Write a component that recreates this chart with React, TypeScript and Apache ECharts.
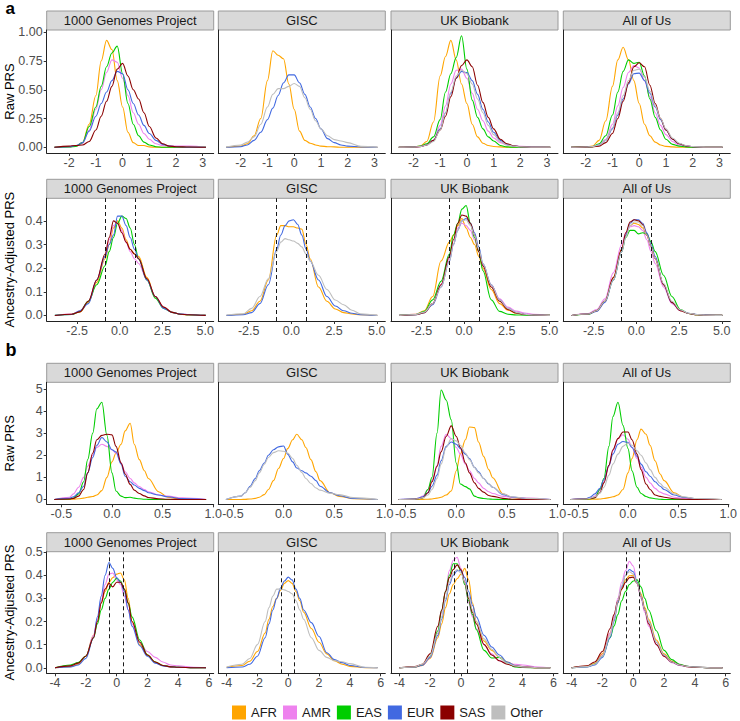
import React, { useEffect, useRef } from "react";
import * as echarts from "echarts";

const GROUPS = ["AFR", "AMR", "EAS", "EUR", "SAS", "Other"];
const COLORS: Record<string, string> = {
  AFR: "#FFA500",
  AMR: "#EE82EE",
  EAS: "#00CD00",
  EUR: "#4169E1",
  SAS: "#8B0000",
  Other: "#BEBEBE",
};
const COHORTS = ["1000 Genomes Project", "GISC", "UK Biobank", "All of Us"];

// ---------- x positions of density evaluation (per row) ----------
const xARaw = [-2.55, -2, -1.75, -1.5, -1.25, -1, -0.8, -0.6, -0.4, -0.2, 0, 0.2, 0.4, 0.6, 0.8, 1, 1.25, 1.5, 1.75, 2, 2.5, 3.12];
const xAAdj = [-3.8, -2.82, -2.33, -1.84, -1.35, -0.86, -0.62, -0.37, -0.13, 0.12, 0.37, 0.61, 0.86, 1.1, 1.59, 2.08, 2.57, 3.06, 3.55, 4.04, 5.03];
const xBRaw = [-0.57, -0.42, -0.38, -0.33, -0.28, -0.24, -0.19, -0.15, -0.1, -0.05, 0, 0.04, 0.09, 0.13, 0.18, 0.22, 0.27, 0.32, 0.36, 0.46, 0.55, 0.69, 0.93];
const xBAdj = [-4, -3, -2.5, -2, -1.5, -1.25, -1, -0.75, -0.5, -0.25, 0, 0.25, 0.5, 0.75, 1, 1.5, 2, 2.5, 3, 3.5, 4, 5, 5.8];

// ---------- tick values ----------
const xTicksARaw = [-2, -1, 0, 1, 2, 3];
const yTicksARaw = [0, 0.25, 0.5, 0.75, 1];
const xTicksAAdj = [-2.5, 0, 2.5, 5];
const yTicksAAdj = [0, 0.1, 0.2, 0.3, 0.4];
const xTicksBRaw = [-0.5, 0, 0.5, 1];
const yTicksBRaw = [0, 1, 2, 3, 4, 5];
const xTicksBAdj = [-4, -2, 0, 2, 4, 6];
const yTicksBAdj = [0, 0.1, 0.2, 0.3, 0.4, 0.5];

// dashed cut-offs
const cutsAAdj = [-0.86, 0.88];
const cutsBAdj = [-0.46, 0.42];

// ---------- a: Raw PRS ----------
const aRaw1000G = {
  AFR: [0, 0.005, 0.01, 0.04, 0.2, 0.45, 0.75, 0.93, 0.85, 0.58, 0.35, 0.13, 0.04, 0.015, 0.015, 0.003, 0, 0, 0, 0, 0, 0],
  AMR: [0, 0.005, 0.01, 0.03, 0.15, 0.33, 0.5, 0.65, 0.76, 0.74, 0.6, 0.45, 0.3, 0.2, 0.12, 0.07, 0.03, 0.015, 0.01, 0.01, 0.01, 0],
  EAS: [0, 0.003, 0.008, 0.04, 0.18, 0.35, 0.53, 0.7, 0.82, 0.88, 0.64, 0.38, 0.2, 0.1, 0.045, 0.02, 0.005, 0, 0, 0, 0, 0],
  EUR: [0, 0.005, 0.015, 0.04, 0.14, 0.27, 0.38, 0.48, 0.58, 0.66, 0.64, 0.5, 0.38, 0.28, 0.19, 0.12, 0.06, 0.025, 0.01, 0.005, 0, 0],
  SAS: [0, 0.01, 0.015, 0.02, 0.05, 0.15, 0.27, 0.4, 0.53, 0.68, 0.73, 0.62, 0.5, 0.42, 0.3, 0.18, 0.08, 0.03, 0.01, 0.005, 0.002, 0],
};
const aRawGISC = {
  AFR: [0, 0.01, 0.03, 0.1, 0.25, 0.58, 0.84, 0.8, 0.77, 0.55, 0.33, 0.14, 0.06, 0.035, 0.02, 0.01, 0.005, 0.003, 0, 0, 0, 0],
  EUR: [0, 0.005, 0.02, 0.06, 0.13, 0.24, 0.34, 0.45, 0.56, 0.63, 0.63, 0.56, 0.46, 0.35, 0.25, 0.16, 0.075, 0.04, 0.02, 0.01, 0.003, 0],
  Other: [0.002, 0.02, 0.045, 0.09, 0.2, 0.35, 0.46, 0.51, 0.51, 0.53, 0.555, 0.53, 0.43, 0.33, 0.23, 0.16, 0.1, 0.066, 0.055, 0.04, 0.008, 0],
};
const aRawUKB = {
  AFR: [0, 0.003, 0.01, 0.05, 0.22, 0.62, 0.79, 0.93, 0.76, 0.55, 0.38, 0.2, 0.09, 0.035, 0.015, 0.007, 0.003, 0, 0, 0, 0, 0],
  AMR: [0, 0.003, 0.008, 0.02, 0.06, 0.19, 0.36, 0.55, 0.67, 0.68, 0.6, 0.47, 0.33, 0.23, 0.14, 0.08, 0.04, 0.02, 0.012, 0.008, 0.003, 0],
  EAS: [0, 0.002, 0.01, 0.03, 0.09, 0.24, 0.48, 0.64, 0.78, 0.97, 0.68, 0.41, 0.26, 0.16, 0.09, 0.055, 0.015, 0.003, 0, 0, 0, 0],
  EUR: [0, 0.002, 0.006, 0.02, 0.06, 0.16, 0.3, 0.47, 0.6, 0.66, 0.65, 0.58, 0.46, 0.33, 0.22, 0.13, 0.06, 0.025, 0.01, 0.005, 0, 0],
  SAS: [0, 0.002, 0.005, 0.02, 0.06, 0.15, 0.27, 0.44, 0.6, 0.71, 0.76, 0.7, 0.54, 0.39, 0.26, 0.16, 0.07, 0.03, 0.012, 0.005, 0, 0],
  Other: [0, 0.002, 0.006, 0.02, 0.05, 0.15, 0.3, 0.48, 0.62, 0.67, 0.64, 0.55, 0.42, 0.3, 0.19, 0.11, 0.05, 0.02, 0.01, 0.004, 0, 0],
};
const aRawAoU = {
  AFR: [0, 0.003, 0.01, 0.06, 0.23, 0.53, 0.76, 0.87, 0.76, 0.58, 0.38, 0.2, 0.1, 0.045, 0.02, 0.008, 0.003, 0, 0, 0, 0, 0],
  AMR: [0, 0.002, 0.006, 0.02, 0.07, 0.2, 0.36, 0.52, 0.65, 0.71, 0.69, 0.58, 0.44, 0.3, 0.19, 0.11, 0.05, 0.02, 0.01, 0.004, 0, 0],
  EAS: [0, 0.001, 0.005, 0.03, 0.1, 0.28, 0.48, 0.66, 0.76, 0.73, 0.74, 0.62, 0.42, 0.26, 0.15, 0.07, 0.025, 0.01, 0.003, 0, 0, 0],
  EUR: [0, 0.002, 0.006, 0.02, 0.06, 0.16, 0.28, 0.42, 0.55, 0.64, 0.645, 0.58, 0.47, 0.35, 0.24, 0.15, 0.07, 0.03, 0.012, 0.005, 0, 0],
  SAS: [0, 0.001, 0.003, 0.01, 0.04, 0.12, 0.25, 0.4, 0.56, 0.7, 0.735, 0.7, 0.54, 0.38, 0.25, 0.15, 0.07, 0.03, 0.012, 0.005, 0, 0],
  Other: [0, 0.002, 0.006, 0.02, 0.06, 0.17, 0.3, 0.45, 0.58, 0.67, 0.68, 0.61, 0.49, 0.36, 0.25, 0.16, 0.08, 0.035, 0.015, 0.006, 0, 0],
};

// ---------- a: Ancestry-adjusted PRS ----------
const aAdj1000G = {
  AFR: [0, 0.005, 0.015, 0.055, 0.14, 0.24, 0.3, 0.37, 0.4, 0.37, 0.32, 0.28, 0.26, 0.25, 0.16, 0.08, 0.035, 0.013, 0.005, 0.002, 0],
  AMR: [0, 0.006, 0.02, 0.06, 0.15, 0.25, 0.32, 0.38, 0.39, 0.36, 0.31, 0.27, 0.24, 0.22, 0.15, 0.08, 0.035, 0.013, 0.006, 0.004, 0],
  EAS: [0, 0.004, 0.017, 0.06, 0.13, 0.21, 0.27, 0.33, 0.39, 0.42, 0.41, 0.37, 0.3, 0.24, 0.15, 0.073, 0.03, 0.013, 0.005, 0.003, 0],
  EUR: [0, 0.004, 0.02, 0.05, 0.15, 0.25, 0.3, 0.34, 0.42, 0.42, 0.38, 0.33, 0.28, 0.24, 0.15, 0.08, 0.03, 0.013, 0.006, 0.003, 0],
  SAS: [0, 0.005, 0.015, 0.06, 0.15, 0.26, 0.33, 0.4, 0.39, 0.35, 0.31, 0.28, 0.26, 0.24, 0.155, 0.08, 0.035, 0.013, 0.005, 0.003, 0],
};
const aAdjGISC = {
  AFR: [0, 0.005, 0.02, 0.06, 0.15, 0.34, 0.38, 0.38, 0.375, 0.375, 0.37, 0.365, 0.3, 0.24, 0.12, 0.06, 0.027, 0.012, 0.006, 0.003, 0],
  EUR: [0, 0.003, 0.012, 0.05, 0.13, 0.28, 0.34, 0.38, 0.4, 0.405, 0.385, 0.34, 0.28, 0.23, 0.15, 0.08, 0.04, 0.02, 0.009, 0.003, 0],
  Other: [0.002, 0.007, 0.03, 0.08, 0.155, 0.27, 0.31, 0.325, 0.32, 0.315, 0.305, 0.29, 0.26, 0.23, 0.17, 0.11, 0.065, 0.045, 0.022, 0.007, 0],
};
const aAdjUKB = {
  AFR: [0, 0.005, 0.02, 0.08, 0.23, 0.31, 0.34, 0.38, 0.41, 0.37, 0.33, 0.3, 0.25, 0.2, 0.11, 0.05, 0.022, 0.009, 0.004, 0.002, 0],
  AMR: [0, 0.005, 0.015, 0.05, 0.13, 0.24, 0.3, 0.37, 0.39, 0.38, 0.36, 0.32, 0.27, 0.21, 0.13, 0.07, 0.035, 0.018, 0.01, 0.005, 0],
  EAS: [0, 0.004, 0.017, 0.066, 0.144, 0.26, 0.34, 0.39, 0.45, 0.465, 0.39, 0.33, 0.27, 0.19, 0.066, 0.017, 0.005, 0.002, 0.001, 0, 0],
  EUR: [0, 0.003, 0.012, 0.045, 0.12, 0.23, 0.3, 0.36, 0.4, 0.41, 0.39, 0.35, 0.29, 0.22, 0.13, 0.065, 0.03, 0.012, 0.005, 0.002, 0],
  SAS: [0, 0.003, 0.012, 0.05, 0.13, 0.25, 0.32, 0.39, 0.425, 0.42, 0.39, 0.34, 0.27, 0.21, 0.12, 0.06, 0.025, 0.01, 0.004, 0.002, 0],
  Other: [0, 0.004, 0.014, 0.05, 0.12, 0.23, 0.3, 0.36, 0.4, 0.405, 0.38, 0.34, 0.28, 0.22, 0.13, 0.065, 0.03, 0.013, 0.005, 0.002, 0],
};
const aAdjAoU = {
  AFR: [0, 0.006, 0.02, 0.06, 0.16, 0.28, 0.34, 0.38, 0.39, 0.385, 0.37, 0.34, 0.29, 0.24, 0.13, 0.055, 0.02, 0.008, 0.003, 0.001, 0],
  AMR: [0, 0.008, 0.025, 0.07, 0.18, 0.3, 0.35, 0.375, 0.38, 0.375, 0.36, 0.32, 0.27, 0.22, 0.12, 0.05, 0.02, 0.008, 0.003, 0.001, 0],
  EAS: [0, 0.005, 0.02, 0.06, 0.15, 0.27, 0.33, 0.36, 0.36, 0.345, 0.35, 0.345, 0.31, 0.27, 0.17, 0.08, 0.025, 0.008, 0.003, 0.001, 0],
  EUR: [0, 0.006, 0.017, 0.055, 0.15, 0.27, 0.34, 0.39, 0.405, 0.405, 0.39, 0.35, 0.3, 0.25, 0.13, 0.055, 0.022, 0.009, 0.004, 0.002, 0],
  SAS: [0, 0.006, 0.02, 0.06, 0.16, 0.28, 0.35, 0.395, 0.405, 0.4, 0.385, 0.34, 0.29, 0.24, 0.13, 0.055, 0.02, 0.008, 0.003, 0.001, 0],
  Other: [0, 0.006, 0.02, 0.06, 0.15, 0.27, 0.33, 0.38, 0.395, 0.395, 0.38, 0.34, 0.29, 0.24, 0.135, 0.06, 0.024, 0.009, 0.004, 0.001, 0],
};

// ---------- b: Raw PRS ----------
const bRaw1000G = {
  AFR: [0, 0.005, 0.01, 0.03, 0.06, 0.1, 0.13, 0.2, 0.4, 1.0, 1.7, 2.1, 2.5, 3.1, 3.45, 2.5, 1.8, 1.3, 0.95, 0.35, 0.1, 0.02, 0],
  AMR: [0, 0.1, 0.25, 0.55, 1.0, 1.5, 2.0, 2.35, 2.5, 2.4, 2.25, 2.1, 1.65, 1.25, 0.95, 0.75, 0.58, 0.45, 0.35, 0.2, 0.15, 0.07, 0],
  EAS: [0, 0.02, 0.06, 0.25, 0.8, 1.8, 3.0, 4.1, 4.4, 2.9, 1.2, 0.38, 0.15, 0.08, 0.1, 0.06, 0.03, 0.01, 0.005, 0, 0, 0, 0],
  EUR: [0, 0.05, 0.12, 0.3, 0.6, 1.2, 1.9, 2.45, 2.8, 2.6, 2.25, 2.15, 1.6, 1.05, 0.8, 0.65, 0.5, 0.4, 0.3, 0.2, 0.12, 0.04, 0],
  SAS: [0, 0.02, 0.05, 0.15, 0.45, 1.2, 2.1, 2.7, 2.9, 2.95, 2.92, 2.4, 1.65, 1.15, 0.68, 0.42, 0.27, 0.16, 0.09, 0.03, 0.01, 0, 0],
};
const bRawGISC = {
  AFR: [0, 0, 0.005, 0.02, 0.05, 0.1, 0.22, 0.45, 0.85, 1.4, 1.85, 2.3, 2.7, 2.95, 2.7, 2.35, 1.8, 1.25, 0.85, 0.3, 0.14, 0.03, 0],
  EUR: [0, 0.15, 0.3, 0.6, 0.95, 1.3, 1.65, 2.0, 2.25, 2.38, 2.42, 2.05, 1.7, 1.42, 1.3, 1.2, 1.05, 0.85, 0.6, 0.3, 0.17, 0.04, 0],
  Other: [0, 0.15, 0.3, 0.55, 0.85, 1.2, 1.6, 1.9, 2.12, 2.2, 2.18, 2.1, 1.85, 1.55, 1.22, 0.95, 0.72, 0.52, 0.42, 0.28, 0.22, 0.08, 0],
};
const bRawUKB = {
  AFR: [0, 0, 0, 0.005, 0.01, 0.02, 0.06, 0.1, 0.2, 0.38, 1.3, 2.05, 2.7, 3.28, 3.25, 2.6, 1.95, 1.35, 0.98, 0.26, 0.09, 0.01, 0],
  AMR: [0, 0.02, 0.05, 0.15, 0.45, 0.85, 1.55, 2.4, 2.95, 2.75, 2.35, 2.05, 1.6, 1.3, 0.95, 0.75, 0.5, 0.35, 0.27, 0.14, 0.1, 0.06, 0],
  EAS: [0, 0.01, 0.03, 0.08, 0.45, 1.0, 3.0, 4.95, 4.5, 3.6, 1.65, 0.7, 0.58, 0.48, 0.15, 0.08, 0.04, 0.02, 0.01, 0, 0, 0, 0],
  EUR: [0, 0.02, 0.05, 0.12, 0.3, 0.6, 1.1, 1.75, 2.4, 2.6, 2.5, 2.3, 2.05, 1.85, 1.45, 1.25, 0.95, 0.7, 0.55, 0.22, 0.11, 0.04, 0],
  SAS: [0, 0.01, 0.03, 0.08, 0.3, 0.8, 1.5, 2.15, 2.85, 3.33, 2.85, 2.35, 1.65, 1.2, 0.75, 0.5, 0.33, 0.18, 0.14, 0.05, 0.01, 0, 0],
  Other: [0, 0.01, 0.03, 0.08, 0.2, 0.45, 0.95, 1.6, 2.35, 2.75, 2.65, 2.45, 2.1, 1.8, 1.45, 1.2, 0.95, 0.72, 0.55, 0.25, 0.12, 0.05, 0],
};
const bRawAoU = {
  AFR: [0, 0, 0.005, 0.01, 0.02, 0.04, 0.08, 0.12, 0.2, 0.45, 1.2, 1.85, 2.7, 3.18, 2.95, 2.45, 1.75, 1.15, 0.85, 0.3, 0.1, 0.02, 0],
  AMR: [0, 0.03, 0.06, 0.15, 0.4, 0.8, 1.5, 2.2, 2.75, 2.93, 2.72, 2.35, 1.85, 1.45, 1.0, 0.75, 0.5, 0.33, 0.25, 0.1, 0.04, 0.01, 0],
  EAS: [0, 0.01, 0.03, 0.08, 0.45, 0.95, 2.4, 3.75, 4.4, 3.35, 2.3, 1.3, 0.55, 0.27, 0.13, 0.07, 0.03, 0.01, 0, 0, 0, 0, 0],
  EUR: [0, 0.04, 0.1, 0.25, 0.5, 0.9, 1.55, 2.05, 2.5, 2.62, 2.58, 2.35, 1.95, 1.6, 1.25, 1.05, 0.8, 0.6, 0.45, 0.2, 0.1, 0.03, 0],
  SAS: [0, 0.02, 0.04, 0.08, 0.3, 0.75, 1.55, 2.25, 2.75, 3.05, 3.05, 2.7, 2.05, 1.35, 0.7, 0.45, 0.2, 0.14, 0.1, 0.03, 0.01, 0, 0],
  Other: [0, 0.02, 0.05, 0.12, 0.28, 0.55, 1.1, 1.6, 2.05, 2.4, 2.55, 2.45, 2.2, 2.0, 1.65, 1.35, 1.0, 0.72, 0.55, 0.25, 0.12, 0.04, 0],
};

// ---------- b: Ancestry-adjusted PRS ----------
const bAdj1000G = {
  AFR: [0, 0.005, 0.015, 0.05, 0.14, 0.2, 0.28, 0.33, 0.37, 0.39, 0.405, 0.41, 0.38, 0.3, 0.2, 0.1, 0.055, 0.025, 0.01, 0.004, 0.002, 0, 0],
  AMR: [0, 0.01, 0.02, 0.05, 0.14, 0.21, 0.29, 0.36, 0.405, 0.41, 0.38, 0.36, 0.31, 0.25, 0.19, 0.11, 0.07, 0.045, 0.025, 0.012, 0.008, 0.002, 0],
  EAS: [0, 0.012, 0.022, 0.05, 0.13, 0.19, 0.25, 0.3, 0.34, 0.37, 0.387, 0.375, 0.34, 0.28, 0.22, 0.12, 0.055, 0.025, 0.01, 0.005, 0.002, 0, 0],
  EUR: [0, 0.004, 0.012, 0.04, 0.13, 0.22, 0.31, 0.4, 0.455, 0.43, 0.39, 0.37, 0.33, 0.25, 0.18, 0.095, 0.05, 0.02, 0.008, 0.004, 0.002, 0, 0],
  SAS: [0, 0.008, 0.02, 0.05, 0.13, 0.2, 0.28, 0.34, 0.365, 0.35, 0.37, 0.37, 0.34, 0.28, 0.2, 0.11, 0.055, 0.025, 0.01, 0.004, 0.002, 0, 0],
};
const bAdjGISC = {
  AFR: [0.002, 0.01, 0.028, 0.07, 0.15, 0.21, 0.265, 0.3, 0.335, 0.365, 0.377, 0.365, 0.33, 0.29, 0.24, 0.17, 0.11, 0.06, 0.03, 0.015, 0.006, 0, 0],
  EUR: [0, 0.003, 0.015, 0.05, 0.13, 0.19, 0.25, 0.3, 0.345, 0.375, 0.392, 0.38, 0.34, 0.3, 0.25, 0.195, 0.135, 0.065, 0.035, 0.022, 0.01, 0.001, 0],
  Other: [0.003, 0.015, 0.04, 0.1, 0.2, 0.26, 0.31, 0.34, 0.34, 0.337, 0.33, 0.32, 0.29, 0.25, 0.21, 0.13, 0.075, 0.045, 0.03, 0.026, 0.018, 0.002, 0],
};
const bAdjUKB = {
  AFR: [0, 0.003, 0.01, 0.04, 0.13, 0.19, 0.26, 0.32, 0.36, 0.385, 0.405, 0.43, 0.38, 0.28, 0.2, 0.115, 0.075, 0.045, 0.025, 0.012, 0.005, 0, 0],
  AMR: [0, 0.003, 0.01, 0.045, 0.15, 0.24, 0.33, 0.42, 0.465, 0.478, 0.43, 0.36, 0.28, 0.22, 0.17, 0.1, 0.06, 0.03, 0.02, 0.015, 0.012, 0.003, 0],
  EAS: [0, 0.003, 0.012, 0.05, 0.16, 0.25, 0.33, 0.4, 0.45, 0.45, 0.42, 0.36, 0.29, 0.23, 0.165, 0.075, 0.042, 0.045, 0.02, 0.004, 0.001, 0, 0],
  EUR: [0, 0.003, 0.012, 0.045, 0.14, 0.21, 0.29, 0.36, 0.4, 0.42, 0.42, 0.39, 0.33, 0.27, 0.22, 0.14, 0.09, 0.055, 0.025, 0.01, 0.004, 0, 0],
  SAS: [0, 0.005, 0.015, 0.06, 0.18, 0.25, 0.33, 0.39, 0.425, 0.445, 0.425, 0.37, 0.3, 0.24, 0.19, 0.1, 0.055, 0.03, 0.015, 0.007, 0.003, 0, 0],
  Other: [0, 0.004, 0.015, 0.05, 0.15, 0.22, 0.3, 0.37, 0.41, 0.425, 0.41, 0.37, 0.31, 0.25, 0.2, 0.125, 0.08, 0.045, 0.02, 0.008, 0.004, 0, 0],
};
const bAdjAoU = {
  AFR: [0, 0.006, 0.018, 0.06, 0.15, 0.21, 0.28, 0.34, 0.38, 0.398, 0.4, 0.37, 0.32, 0.26, 0.21, 0.12, 0.06, 0.028, 0.013, 0.006, 0.003, 0, 0],
  AMR: [0, 0.005, 0.015, 0.055, 0.15, 0.22, 0.3, 0.37, 0.42, 0.46, 0.44, 0.37, 0.3, 0.24, 0.18, 0.1, 0.05, 0.022, 0.01, 0.005, 0.002, 0, 0],
  EAS: [0, 0.005, 0.015, 0.05, 0.13, 0.18, 0.23, 0.29, 0.33, 0.36, 0.375, 0.38, 0.35, 0.3, 0.25, 0.16, 0.075, 0.035, 0.015, 0.006, 0.002, 0, 0],
  EUR: [0, 0.004, 0.012, 0.045, 0.13, 0.2, 0.28, 0.35, 0.4, 0.425, 0.415, 0.37, 0.31, 0.25, 0.2, 0.11, 0.055, 0.025, 0.012, 0.006, 0.003, 0, 0],
  SAS: [0, 0.008, 0.025, 0.07, 0.17, 0.23, 0.29, 0.34, 0.37, 0.39, 0.392, 0.365, 0.31, 0.25, 0.19, 0.1, 0.05, 0.025, 0.012, 0.005, 0.002, 0, 0],
  Other: [0, 0.005, 0.015, 0.05, 0.14, 0.21, 0.29, 0.355, 0.4, 0.415, 0.405, 0.365, 0.31, 0.25, 0.2, 0.11, 0.055, 0.025, 0.012, 0.006, 0.003, 0, 0],
};

// ---------- layout ----------
const FONT = '"Liberation Sans", Arial, Helvetica, sans-serif';
const COL_LEFT = [46.7, 218.3, 391, 563.3];
const COL_W = 167;
const STRIP_H = 19;

type Row = {
  top: number;
  height: number;
  x: number[];
  xMin: number;
  xMax: number;
  yMin: number;
  yMax: number;
  xTicks: number[];
  yTicks: number[];
  xFmt: (v: number) => string;
  yFmt: (v: number) => string;
  panels: Record<string, number[]>[];
  cuts?: number[];
  title: string;
};

const ROWS: Row[] = [
  {
    top: 30, height: 123, x: xARaw, xMin: -2.84, xMax: 3.41, yMin: -0.05, yMax: 1.02,
    xTicks: xTicksARaw, yTicks: yTicksARaw,
    xFmt: (v) => String(v), yFmt: (v) => v.toFixed(2),
    panels: [aRaw1000G, aRawGISC, aRawUKB, aRawAoU], title: "Raw PRS",
  },
  {
    top: 198.3, height: 122.7, x: xAAdj, xMin: -4.28, xMax: 5.5, yMin: -0.0236, yMax: 0.4956,
    xTicks: xTicksAAdj, yTicks: yTicksAAdj,
    xFmt: (v) => v.toFixed(1), yFmt: (v) => v.toFixed(1),
    panels: [aAdj1000G, aAdjGISC, aAdjUKB, aAdjAoU], cuts: cutsAAdj, title: "Ancestry-Adjusted PRS",
  },
  {
    top: 382.3, height: 122, x: xBRaw, xMin: -0.645, xMax: 1.005, yMin: -0.22, yMax: 5.3,
    xTicks: xTicksBRaw, yTicks: yTicksBRaw,
    xFmt: (v) => v.toFixed(1), yFmt: (v) => String(v),
    panels: [bRaw1000G, bRawGISC, bRawUKB, bRawAoU], title: "Raw PRS",
  },
  {
    top: 551.7, height: 121.6, x: xBAdj, xMin: -4.54, xMax: 6.3, yMin: -0.024, yMax: 0.502,
    xTicks: xTicksBAdj, yTicks: yTicksBAdj,
    xFmt: (v) => String(v), yFmt: (v) => v.toFixed(1),
    panels: [bAdj1000G, bAdjGISC, bAdjUKB, bAdjAoU], cuts: cutsBAdj, title: "Ancestry-Adjusted PRS",
  },
];

function buildOption() {
  const grid: any[] = [];
  const xAxis: any[] = [];
  const yAxis: any[] = [];
  const series: any[] = [];
  const graphic: any[] = [];

  const axisLine = { show: true, onZero: false, lineStyle: { color: "#222222", width: 1 } };

  ROWS.forEach((row, r) => {
    // y-axis title
    graphic.push({
      type: "text",
      x: 9,
      y: row.top + row.height / 2,
      rotation: Math.PI / 2,
      silent: true,
      style: {
        text: row.title,
        fill: "#000000",
        fontSize: 13,
        fontFamily: FONT,
        textAlign: "center",
        textVerticalAlign: "middle",
      },
    });
    row.panels.forEach((panel, c) => {
      const idx = r * 4 + c;
      grid.push({ left: COL_LEFT[c], top: row.top, width: COL_W, height: row.height, containLabel: false });
      xAxis.push({
        type: "value",
        gridIndex: idx,
        min: row.xMin,
        max: row.xMax,
        axisLine,
        axisTick: { show: true, length: 3, lineStyle: { color: "#333333" }, customValues: row.xTicks },
        axisLabel: {
          customValues: row.xTicks,
          formatter: row.xFmt,
          color: "#4D4D4D",
          fontSize: 12.5,
          fontFamily: FONT,
          margin: 3,
        },
        splitLine: { show: false },
      });
      yAxis.push({
        type: "value",
        gridIndex: idx,
        min: row.yMin,
        max: row.yMax,
        axisLine,
        axisTick: { show: c === 0, length: 3, lineStyle: { color: "#333333" }, customValues: row.yTicks },
        axisLabel: {
          show: c === 0,
          customValues: row.yTicks,
          formatter: row.yFmt,
          color: "#4D4D4D",
          fontSize: 12.5,
          fontFamily: FONT,
          margin: 4,
        },
        splitLine: { show: false },
      });
      let first = true;
      GROUPS.forEach((g) => {
        const ys = panel[g];
        if (!ys) return;
        const s: any = {
          type: "line",
          name: g,
          xAxisIndex: idx,
          yAxisIndex: idx,
          data: row.x.map((xv, i) => [xv, ys[i]]),
          showSymbol: false,
          symbol: "none",
          smooth: 0.35,
          smoothMonotone: "x",
          silent: true,
          lineStyle: { color: COLORS[g], width: 1.1 },
          itemStyle: { color: COLORS[g] },
          emphasis: { disabled: true },
        };
        if (first && row.cuts) {
          s.markLine = {
            silent: true,
            symbol: ["none", "none"],
            label: { show: false },
            emphasis: { disabled: true },
            lineStyle: { type: [4, 3], color: "#1A1A1A", width: 1 },
            data: row.cuts.map((v) => ({ xAxis: v })),
          };
        }
        first = false;
        series.push(s);
      });
      // facet strip
      graphic.push({
        type: "rect",
        silent: true,
        shape: { x: COL_LEFT[c], y: row.top - STRIP_H, width: COL_W, height: STRIP_H },
        style: { fill: "#D9D9D9", stroke: "#9A9A9A", lineWidth: 1 },
      });
      graphic.push({
        type: "text",
        silent: true,
        x: COL_LEFT[c] + COL_W / 2,
        y: row.top - STRIP_H / 2,
        style: {
          text: COHORTS[c],
          fill: "#1A1A1A",
          fontSize: 13,
          fontFamily: FONT,
          textAlign: "center",
          textVerticalAlign: "middle",
        },
      });
    });
  });

  // panel tags
  graphic.push({
    type: "text", silent: true, x: 5.5, y: 8.5,
    style: { text: "a", fill: "#000", fontSize: 17, fontWeight: "bold", fontFamily: FONT, textAlign: "left", textVerticalAlign: "middle" },
  });
  graphic.push({
    type: "text", silent: true, x: 5.5, y: 350.4,
    style: { text: "b", fill: "#000", fontSize: 18, fontWeight: "bold", fontFamily: FONT, textAlign: "left", textVerticalAlign: "middle" },
  });

  return {
    animation: false,
    backgroundColor: "#ffffff",
    grid,
    xAxis,
    yAxis,
    series,
    graphic,
    legend: {
      data: GROUPS.map((g) => ({ name: g, icon: "rect", itemStyle: { color: COLORS[g] } })),
      left: 232,
      top: 705.5,
      padding: 0,
      itemWidth: 14,
      itemHeight: 14,
      itemGap: 6,
      selectedMode: false,
      textStyle: { fontSize: 13, color: "#1A1A1A", fontFamily: FONT },
    },
  };
}

export default function App() {
  const ref = useRef<HTMLDivElement>(null);
  useEffect(() => {
    if (!ref.current) return;
    const chart = echarts.init(ref.current, null, { renderer: "svg", width: 740, height: 721 });
    chart.setOption(buildOption() as any);
    return () => {
      chart.dispose();
    };
  }, []);
  return (
    <div
      ref={ref}
      style={{ position: "fixed", left: 0, top: 0, width: 740, height: 721, background: "#ffffff" }}
    />
  );
}
